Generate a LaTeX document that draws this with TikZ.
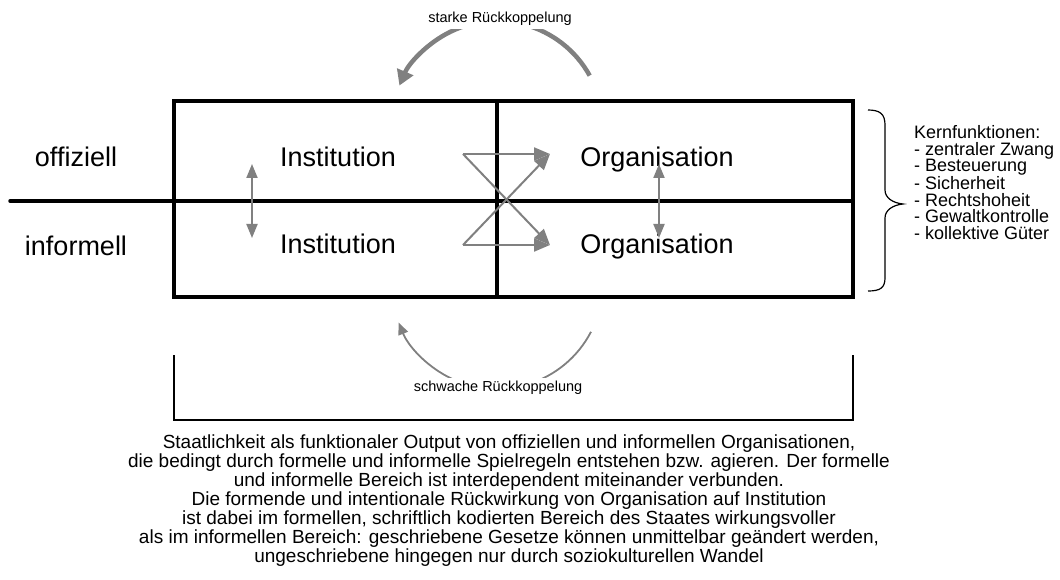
\documentclass[tikz,border=0pt]{standalone}
\usepackage{fontspec}
\setmainfont{Liberation Sans}
\usetikzlibrary{arrows.meta}
\definecolor{fbgray}{RGB}{128,128,128}
\begin{document}
\begin{tikzpicture}[x=1pt,y=-1pt,
  frame/.style={line width=3.5pt},
  bigtext/.style={font=\fontsize{27}{30}\selectfont, inner sep=0pt, anchor=base},
  link/.style={draw=fbgray, line width=2pt, -{Triangle[length=16pt,width=13pt]}},
  dlink/.style={draw=fbgray, line width=2pt, {Triangle[length=14pt,width=11pt]}-{Triangle[length=14pt,width=11pt]}},
  strong/.style={draw=fbgray, line width=4.5pt, -{Triangle[length=15pt,width=17pt]}},
  weak/.style={draw=fbgray, line width=1.8pt, -{Triangle[length=12pt,width=10pt]}},
  fblabel/.style={font=\fontsize{14.5}{16}\selectfont, fill=white, inner sep=3pt},
  thin/.style={line width=1.2pt}
]
\useasboundingbox (0,0) rectangle (1060,580);

% feedback arcs (drawn first, labels sit on top)
\coordinate (sStart) at (589.7,75.6);
\coordinate (wStart) at (591.0,331.8);
\draw[strong] (sStart) arc[start angle=-29, end angle=-157, radius=106];
\draw[weak] (wStart) arc[start angle=27.5, end angle=158, radius=106];
\node[fblabel] (strongLbl) at (500,19) {starke Rückkoppelung};
\node[fblabel] (weakLbl) at (498,388) {schwache Rückkoppelung};

% frame of the four fields
\draw[frame] (174,101) rectangle (853,297);
\draw[frame] (497,101) -- (497,297);
\coordinate (axisL) at (10,201);
\coordinate (axisR) at (853,201);
\draw[frame, line cap=round] (axisL) -- (axisR);

% row labels
\node[bigtext] (offiziell) at (76,167) {offiziell};
\node[bigtext] (informell) at (76,255) {informell};

% field texts
\node[bigtext] (instO) at (338,167) {Institution};
\node[bigtext] (instI) at (338,254) {Institution};
\node[bigtext] (orgO) at (657,167) {Organisation};
\node[bigtext] (orgI) at (657,254) {Organisation};

% vertical interaction arrows
\coordinate (iTop) at (252,164);
\coordinate (iBot) at (252,238);
\coordinate (oTop) at (659,164);
\coordinate (oBot) at (659,238);
\draw[dlink] (iTop) -- (iBot);
\draw[dlink] (oTop) -- (oBot);

% crossing arrows from institutions to organisations
\coordinate (cTL) at (463,154);
\coordinate (cBL) at (463,245);
\coordinate (cTR) at (550,154);
\coordinate (cBR) at (550,245);
\draw[link] (cTL) -- (cTR);
\draw[link] (cTL) -- (cBR);
\draw[link] (cBL) -- (cBR);
\draw[link] (cBL) -- (cTR);

% brace and core functions
\draw[thin] (868,110) .. controls (880,110) and (885,114) .. (885,125)
  -- (885,190) .. controls (885,198) and (893,203) .. (903,204)
  .. controls (893,205) and (885,210) .. (885,218)
  -- (885,278) .. controls (885,288) and (880,291) .. (868,291);
\node[anchor=west, align=left, inner sep=0pt,
  font=\fontsize{18}{16.6}\selectfont] (kern) at (914,182.5)
  {Kernfunktionen:\\- zentraler Zwang\\- Besteuerung\\- Sicherheit\\- Rechtshoheit\\- Gewaltkontrolle\\- kollektive Güter};

% lower bracket and explanation
\draw[thin] (174,355) -- (174,420) -- (853,420) -- (853,355);
\node[align=center, inner sep=0pt, font=\fontsize{19}{19}\selectfont] (expl) at (509,501)
  {Staatlichkeit als funktionaler Output von offiziellen und informellen Organisationen,\\
   die bedingt durch formelle und informelle Spielregeln entstehen bzw. agieren. Der formelle\\
   und informelle Bereich ist interdependent miteinander verbunden.\\
   Die formende und intentionale Rückwirkung von Organisation auf Institution\\
   ist dabei im formellen, schriftlich kodierten Bereich des Staates wirkungsvoller\\
   als im informellen Bereich: geschriebene Gesetze können unmittelbar geändert werden,\\
   ungeschriebene hingegen nur durch soziokulturellen Wandel};
\end{tikzpicture}
\end{document}
